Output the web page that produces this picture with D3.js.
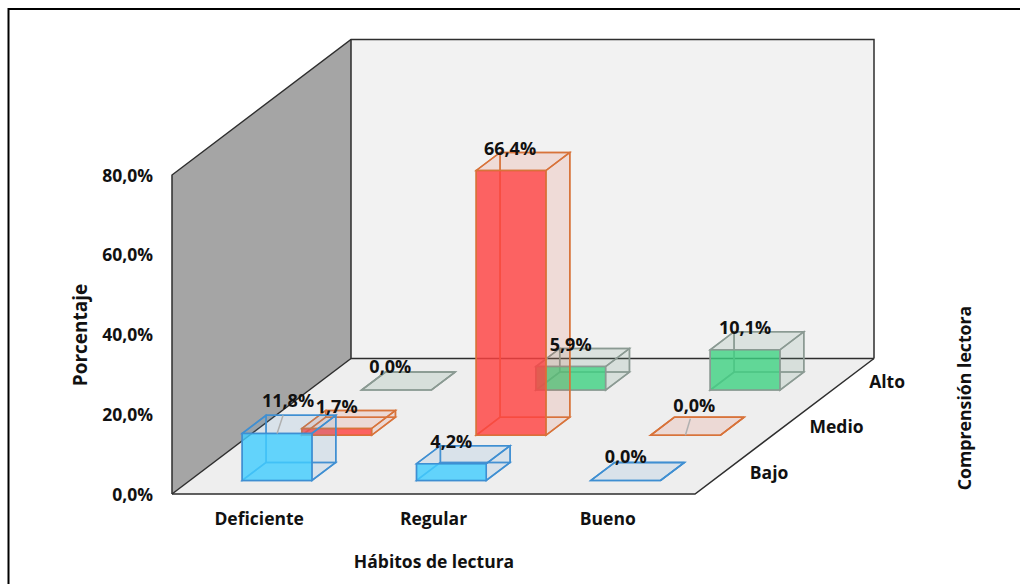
<!DOCTYPE html>
<html>
<head>
<meta charset="utf-8">
<script src="https://d3js.org/d3.v7.min.js"></script>
<style>
html, body { margin: 0; padding: 0; background: #fff; }
svg { display: block; }
text { font-family: "Open Sans", sans-serif; font-weight: 700; fill: #111; }
</style>
</head>
<body>
<svg id="chart"></svg>
<script>
// data
const categories = ['Deficiente', 'Regular', 'Bueno'];
const seriesNames = ['Bajo', 'Medio', 'Alto'];
const bajoValues = [11.8, 4.2, 0.0];
const medioValues = [1.7, 66.4, 0.0];
const altoValues = [0.0, 5.9, 10.1];
const yTicks = [0, 20, 40, 60, 80];

const seriesValues = [bajoValues, medioValues, altoValues];

// layout
const width = 1020;
const height = 584;
const floorLeft = 172;
const floorRight = 695;
const floorBottom = 494;
const depthX = 179;
const depthY = 135.5;

const svg = d3.select('#chart').attr('width', width).attr('height', height);

const x = d3.scaleBand().domain(categories).range([floorLeft, floorRight])
    .paddingInner(0.6).paddingOuter(0.3);
const depth = d3.scaleBand().domain(seriesNames).range([0, 1])
    .paddingInner(0.6).paddingOuter(0.3);
const y = d3.scaleLinear().domain([0, 80]).range([floorBottom, 175]);

// screen position of a point: px on the front edge, d into the depth, v up
function project(px, d, v) {
    return [px + depthX * d, y(v) - depthY * d];
}
const line = d3.line();
function poly(points) {
    return line(points) + 'Z';
}

// styles of each series
const styles = {
    Bajo: {front: 'rgba(65,205,255,0.8)', face: 'rgba(91,155,213,0.07)', stroke: '#3f8fd2'},
    Medio: {front: 'rgba(255,65,65,0.8)', face: 'rgba(220,90,60,0.07)', stroke: '#d8733a'},
    Alto: {front: 'rgba(60,210,130,0.78)', face: 'rgba(110,160,130,0.09)', stroke: '#8b9a93'}
};

// walls and floor
const x0 = floorLeft, x1 = floorRight;
const wallTop = 80;
const walls = svg.append('g');
walls.append('path')
    .attr('d', poly([project(x0, 1, 0), project(x0, 1, wallTop), project(x1, 1, wallTop), project(x1, 1, 0)]))
    .attr('fill', '#f2f2f2');
walls.append('path')
    .attr('d', poly([project(x0, 0, 0), project(x1, 0, 0), project(x1, 1, 0), project(x0, 1, 0)]))
    .attr('fill', '#eeeeee');
walls.append('path')
    .attr('d', poly([project(x0, 0, 0), project(x0, 0, wallTop), project(x0, 1, wallTop), project(x0, 1, 0)]))
    .attr('fill', '#a5a5a5');

const edges = [
    [project(x0, 0, 0), project(x0, 0, wallTop), project(x0, 1, wallTop), project(x1, 1, wallTop), project(x1, 1, 0)],
    [project(x0, 1, wallTop), project(x0, 1, 0), project(x1, 1, 0)],
    [project(x0, 0, 0), project(x0, 1, 0)],
    [project(x0, 0, 0), project(x1, 0, 0), project(x1, 1, 0)]
];
walls.selectAll('path.edge').data(edges).enter().append('path')
    .attr('class', 'edge')
    .attr('d', line)
    .attr('fill', 'none')
    .attr('stroke', '#2e2e2e')
    .attr('stroke-width', 1.5);

// bars, back row first
const bars = [];
seriesNames.forEach(function(s, i) {
    categories.forEach(function(c, j) {
        bars.push({category: c, series: s, value: seriesValues[i][j]});
    });
});
bars.sort((a, b) => seriesNames.indexOf(b.series) - seriesNames.indexOf(a.series));

function drawBar(d) {
    const st = styles[d.series];
    const g = svg.append('g');
    const a = x(d.category), b = a + x.bandwidth();
    const f = depth(d.series), r = f + depth.bandwidth();
    const v = d.value;

    // faces behind
    const back = [project(a, r, 0), project(a, r, v), project(b, r, v), project(b, r, 0)];
    const left = [project(a, f, 0), project(a, f, v), project(a, r, v), project(a, r, 0)];
    const floor = [project(a, f, 0), project(b, f, 0), project(b, r, 0), project(a, r, 0)];
    [back, left, floor].forEach(function(p) {
        g.append('path').attr('d', poly(p)).attr('fill', st.face)
            .attr('stroke', st.stroke).attr('stroke-width', 1.5).attr('stroke-opacity', 0.85);
    });

    // faces in front
    const frontFace = [project(a, f, 0), project(a, f, v), project(b, f, v), project(b, f, 0)];
    const right = [project(b, f, 0), project(b, f, v), project(b, r, v), project(b, r, 0)];
    const topFace = [project(a, f, v), project(b, f, v), project(b, r, v), project(a, r, v)];
    g.append('path').attr('d', poly(right)).attr('fill', st.face)
        .attr('stroke', st.stroke).attr('stroke-width', 1.5);
    g.append('path').attr('d', poly(topFace)).attr('fill', st.face)
        .attr('stroke', st.stroke).attr('stroke-width', 1.5);
    if (v > 0) {
        g.append('path').attr('d', poly(frontFace)).attr('fill', st.front)
            .attr('stroke', st.stroke).attr('stroke-width', 1.5);
    }
}
bars.forEach(drawBar);

// data labels, shifted from the centre of the bar top
const labelShift = {
    'Deficiente|Bajo': [-1, -24],
    'Deficiente|Alto': [-18, -14],
    'Regular|Medio': [-13, -13],
    'Bueno|Medio': [-3, -21],
    'Bueno|Bajo': [-12, -15]
};
const leaders = ['Deficiente|Bajo', 'Bueno|Medio'];

function barTopCentre(d) {
    const cx = x(d.category) + x.bandwidth() / 2;
    return project(cx, depth(d.series) + depth.bandwidth() / 2, d.value);
}

bars.forEach(function(d) {
    const key = d.category + '|' + d.series;
    const shift = labelShift[key] || [-12, -13];
    const c = barTopCentre(d);
    const lx = c[0] + shift[0], ly = c[1] + shift[1];
    if (leaders.includes(key)) {
        const start = project(x(d.category) + x.bandwidth() / 2, depth(d.series), d.value);
        svg.append('line')
            .attr('x1', start[0]).attr('y1', start[1])
            .attr('x2', start[0] + (lx - start[0]) * 0.55).attr('y2', start[1] + (ly - start[1]) * 0.55)
            .attr('stroke', '#b0b0b0').attr('stroke-width', 1.5);
    }
    svg.append('text')
        .attr('x', lx).attr('y', ly)
        .attr('dy', '0.35em')
        .attr('text-anchor', 'middle')
        .style('font-size', '18px')
        .text(d.value.toFixed(1).replace('.', ',') + '%');
});

// axes
const yAxis = svg.append('g')
    .attr('transform', 'translate(' + (floorLeft - 14) + ',0.5)')
    .call(d3.axisLeft(y).tickValues(yTicks).tickSize(0).tickPadding(5)
        .tickFormat(d => d.toFixed(1).replace('.', ',') + '%'));
yAxis.attr('font-family', null).attr('font-size', null);
yAxis.select('.domain').remove();
yAxis.selectAll('text').style('font-size', '17.5px');

const xAxis = svg.append('g')
    .attr('transform', 'translate(0,' + floorBottom + ')')
    .call(d3.axisBottom(x).tickSize(0).tickPadding(19));
xAxis.attr('font-family', null).attr('font-size', null);
xAxis.select('.domain').remove();
xAxis.selectAll('text').style('font-size', '17.5px');

// series names along the depth edge
svg.selectAll('text.series').data(seriesNames).enter().append('text')
    .attr('class', 'series')
    .attr('x', d => project(floorRight, depth(d) + depth.bandwidth() / 2, 0)[0] + 25)
    .attr('y', d => project(floorRight, depth(d) + depth.bandwidth() / 2, 0)[1] + 1)
    .attr('dy', '0.35em')
    .style('font-size', '17.5px')
    .text(d => d);

// axis titles
svg.append('text')
    .attr('transform', 'translate(80,335)rotate(-90)')
    .attr('dy', '0.35em')
    .attr('text-anchor', 'middle')
    .style('font-size', '19px')
    .text('Porcentaje');
svg.append('text')
    .attr('x', 434).attr('y', 562)
    .attr('dy', '0.35em')
    .attr('text-anchor', 'middle')
    .style('font-size', '17.5px')
    .text('Hábitos de lectura');
svg.append('text')
    .attr('transform', 'translate(965,398)rotate(-90)')
    .attr('dy', '0.35em')
    .attr('text-anchor', 'middle')
    .style('font-size', '17.7px')
    .text('Comprensión lectora');

// frame of the picture, open at the right and bottom
svg.append('path').attr('d', 'M8.5,584V9H1020').attr('fill', 'none')
    .attr('stroke', '#000').attr('stroke-width', 2);
</script>
</body>
</html>
